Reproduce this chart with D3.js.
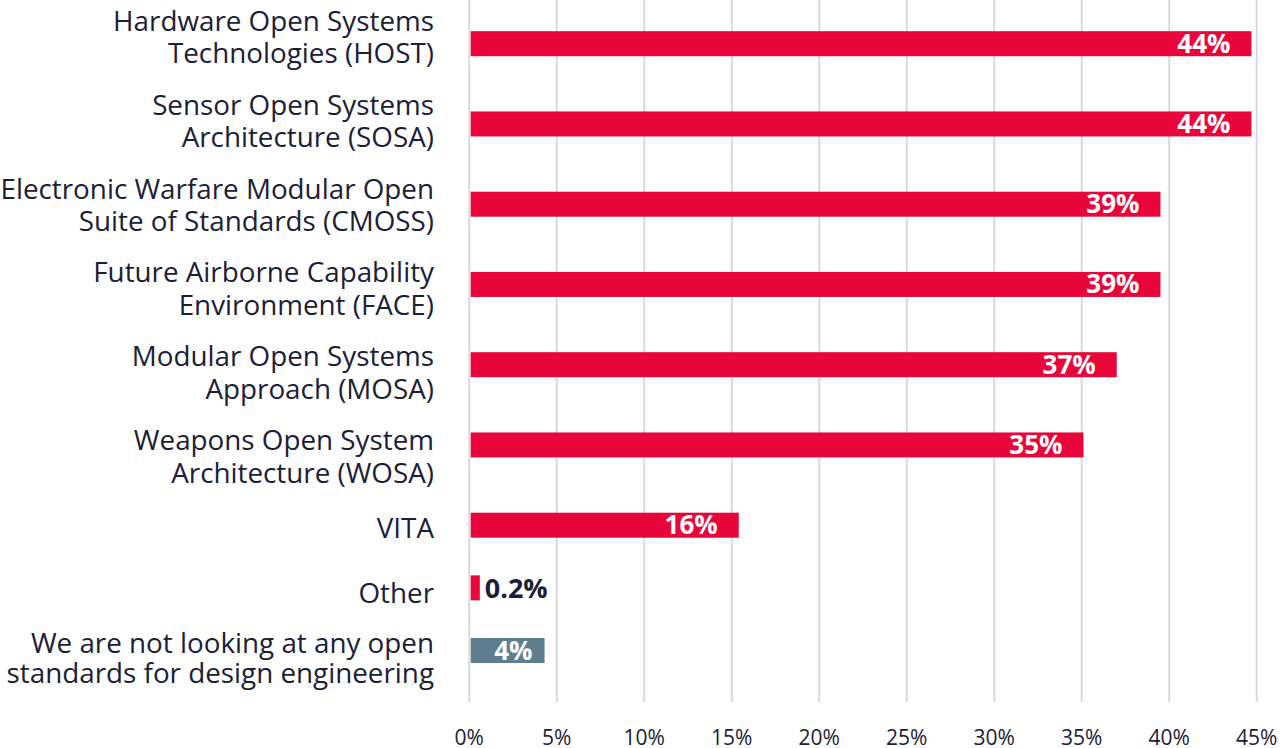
<!DOCTYPE html>
<html>
<head>
<meta charset="utf-8">
<script src="https://cdn.jsdelivr.net/npm/d3@7"></script>
<style>
  body { margin: 0; background: #fff; }
  svg { display: block; font-family: "Open Sans", sans-serif; }
</style>
</head>
<body>
<div id="chart"></div>
<script>
var categories = [
    ["Hardware Open Systems", "Technologies (HOST)"],
    ["Sensor Open Systems", "Architecture (SOSA)"],
    ["Electronic Warfare Modular Open", "Suite of Standards (CMOSS)"],
    ["Future Airborne Capability", "Environment (FACE)"],
    ["Modular Open Systems", "Approach (MOSA)"],
    ["Weapons Open System", "Architecture (WOSA)"],
    ["VITA"],
    ["Other"],
    ["We are not looking at any open", "standards for design engineering"]
];
var values = [44.7, 44.7, 39.5, 39.5, 37.0, 35.1, 15.4, 0.6, 4.3];
var valueLabels = ["44%", "44%", "39%", "39%", "37%", "35%", "16%", "0.2%", "4%"];
var tickValues = [0, 5, 10, 15, 20, 25, 30, 35, 40, 45];

var width = 1280,
    height = 748,
    red = "#E8053A",
    grey = "#5F7F90",
    ink = "#1B2036";

var svg = d3
    .select("#chart")
    .append("svg")
    .attr("width", width)
    .attr("height", height);

var x = d3.scaleLinear().domain([0, 45]).range([469.3, 1256.7]);

// rows are closer together at the bottom of the chart
var y = d3
    .scaleLinear()
    .domain([0, 6, 8])
    .range([43.7, 525.2, 650.5]);

// the category labels drift a little from the bars
var yLabel = d3
    .scaleLinear()
    .domain([0, 5, 6, 8])
    .range([37, 456.5, 528.3, 657.8]);

var barHeight = 25;

// grid lines
svg
    .append("g")
    .selectAll("line")
    .data(tickValues)
    .enter()
    .append("line")
    .attr("x1", (d) => x(d))
    .attr("x2", (d) => x(d))
    .attr("y1", 0)
    .attr("y2", 702)
    .attr("stroke", "#D9D9D9")
    .attr("stroke-width", 2);

// tick labels
svg
    .append("g")
    .selectAll("text")
    .data(tickValues)
    .enter()
    .append("text")
    .attr("x", (d) => x(d))
    .attr("y", 745)
    .attr("text-anchor", "middle")
    .style("font-size", "21px")
    .attr("fill", ink)
    .text((d) => d + "%");

var rows = svg
    .append("g")
    .selectAll("g")
    .data(values)
    .enter()
    .append("g")
    .attr("transform", (d, i) => "translate(0," + y(i) + ")");

rows
    .append("rect")
    .attr("x", x(0) + 1.4)
    .attr("y", -barHeight / 2)
    .attr("width", (d) => x(d) - x(0) - 1.4)
    .attr("height", barHeight)
    .attr("fill", (d, i) => (i == values.length - 1 ? grey : red));

// category labels
svg
    .append("g")
    .selectAll("text")
    .data(categories)
    .enter()
    .append("text")
    .attr("text-anchor", "end")
    .style("font-size", "27.8px")
    .attr("fill", ink)
    .each(function (lines, i) {
        var lineHeight = i == categories.length - 1 ? 29.5 : 32.5;
        var first = yLabel(i) + 10 - ((lines.length - 1) * lineHeight) / 2;
        d3.select(this)
            .selectAll("tspan")
            .data(lines)
            .enter()
            .append("tspan")
            .attr("x", 434)
            .attr("y", (l, j) => first + j * lineHeight)
            .text((l) => l);
    });

// value labels
rows
    .append("text")
    .attr("x", function (d) {
        if (d < 2) return x(d) + 5;
        if (d < 6) return x(d) - 12;
        return x(d) - 21;
    })
    .attr("y", (d) => (d < 2 ? 9.8 : 9))
    .attr("text-anchor", (d) => (d < 2 ? "start" : "end"))
    .style("font-size", (d) => (d < 2 ? "27px" : "26px"))
    .style("font-weight", "bold")
    .attr("fill", (d) => (d < 2 ? ink : "#fff"))
    .text((d, i) => valueLabels[i]);
</script>
</body>
</html>
